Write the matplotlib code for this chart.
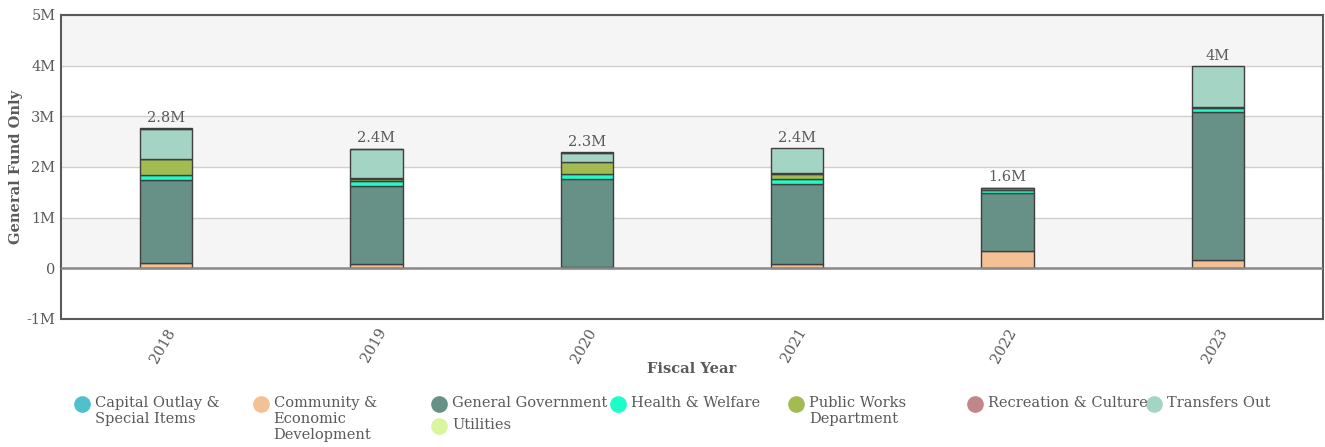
import matplotlib.pyplot as plt
import numpy as np

# DATA (millions)
years = ['2018', '2019', '2020', '2021', '2022', '2023']
series_names = ['Capital Outlay &\nSpecial Items', 'Community &\nEconomic\nDevelopment',
                'General Government', 'Health & Welfare', 'Public Works\nDepartment',
                'Recreation & Culture', 'Transfers Out', 'Utilities']
series_colors = ['#4fc1cd', '#f4c095', '#679186', '#1affc8', '#a3bc52',
                 '#c0868a', '#a4d4c4', '#d9f5a0']

capital = [0, 0, 0, 0, 0, 0]
community = [0.105, 0.09, 0.02, 0.09, 0.34, 0.16]
general = [1.645, 1.53, 1.74, 1.57, 1.15, 2.92]
health = [0.10, 0.10, 0.10, 0.10, 0.05, 0.08]
public_works = [0.30, 0.04, 0.23, 0.11, 0.0, 0.0]
recreation = [0.01, 0.03, 0.0, 0.02, 0.04, 0.03]
transfers = [0.59, 0.56, 0.19, 0.48, 0.0, 0.80]
utilities = [0.01, 0.01, 0.01, 0.0, 0.01, 0.0]

series = [capital, community, general, health, public_works, recreation, transfers, utilities]

TEXT = '#5a5a5a'
plt.rcParams['font.family'] = ['DejaVu Serif']

fig = plt.figure(figsize=(13.25, 4.47), dpi=100)
ax = fig.add_axes([61/1325, 128/447, 1262/1325, 304/447])

x = np.arange(len(years))
ax.set_xlim(-0.5, len(years) - 0.5)
ax.set_ylim(-1, 5)

# alternating bands
for lo in range(-1, 5):
    ax.axhspan(lo, lo + 1, color='#f5f5f5' if lo % 2 == 0 else 'white', zorder=0, lw=0)
for v in range(-1, 6):
    ax.axhline(v, color='#d0d0d0', lw=1, zorder=1)
ax.axhline(0, color='#8a8a8a', lw=1.8, zorder=4)

bottom = np.zeros(len(years))
for vals, col in zip(series, series_colors):
    vals = np.array(vals, dtype=float)
    m = vals > 0
    ax.bar(x[m], vals[m], bottom=bottom[m], width=0.25, color=col,
           edgecolor='#3f3f3f', linewidth=1, zorder=3)
    bottom += vals

for xi, tot in zip(x, bottom):
    lab = f'{tot:.1f}'.rstrip('0').rstrip('.') + 'M'
    ax.text(xi, tot + 0.07, lab, ha='center', va='bottom', fontsize=10.5, color=TEXT)

ax.set_yticks(range(-1, 6))
ax.set_yticklabels(['-1M', '0', '1M', '2M', '3M', '4M', '5M'])
ax.set_xticks(x)
ax.set_xticklabels(years, rotation=60, ha='right', rotation_mode='anchor')
ax.tick_params(axis='both', colors=TEXT, labelsize=10.5, length=0)
ax.tick_params(axis='x', pad=5)
ax.tick_params(axis='y', pad=4)
for s in ax.spines.values():
    s.set_color('#5a5a5a')
    s.set_linewidth(1.5)

ax.set_ylabel('General Fund Only', fontsize=10.5, fontweight='bold', color=TEXT, va='center')
ax.yaxis.set_label_coords(-0.0357, 0.5)
ax.set_xlabel('Fiscal Year', fontsize=10.5, fontweight='bold', color=TEXT, va='center')
ax.xaxis.set_label_coords(0.5, -0.165)

# legend (drawn in pixel coords)
lax = fig.add_axes([0, 0, 1, 1], zorder=-1)
lax.set_xlim(0, 1325)
lax.set_ylim(447, 0)
lax.axis('off')
for i, (name, col) in enumerate(zip(series_names, series_colors)):
    colpos = i if i < 7 else 2
    row = 0 if i < 7 else 1
    mx = 82 + 178.6 * colpos
    my = 404 + 22 * row
    lax.plot(mx, my, 'o', ms=12, color=col, mec='none')
    lax.text(mx + 13, my - 8, name, ha='left', va='top', fontsize=10.5,
             color=TEXT, linespacing=1.2)

fig.savefig('out.png', dpi=100)
